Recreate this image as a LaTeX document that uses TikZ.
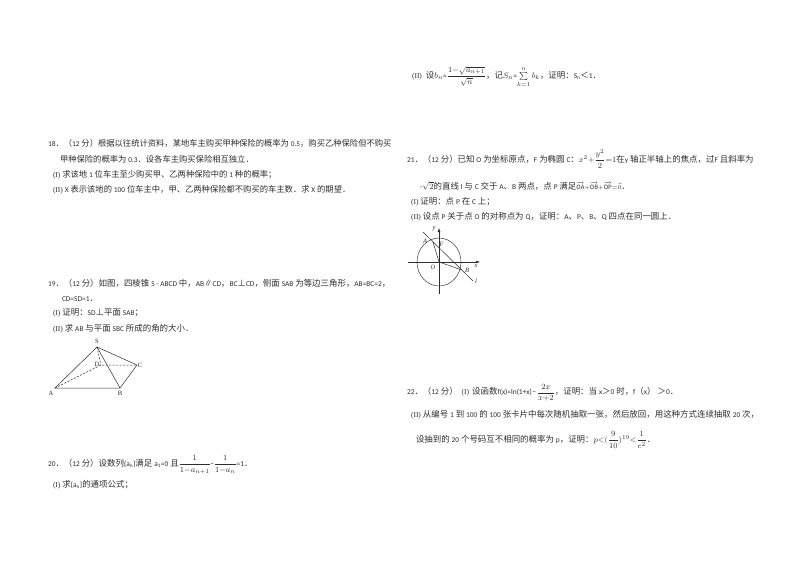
\documentclass[tikz,border=0pt]{standalone}
\usepackage{amsmath}
\usepackage{fontspec}
\setmainfont{Noto Sans CJK SC}
\newfontfamily\lat{Carlito}
\newfontfamily\ser{Liberation Serif}
\newcommand\ltn[1]{{\lat\fontsize{7.4}{8}\selectfont #1}}
\newcommand\rom[1]{{\ser\fontsize{7.5}{8}\selectfont (#1)}}
\newcommand\vc[1]{\overrightarrow{\mathrm{#1}}}
\usetikzlibrary{arrows.meta}
\definecolor{ink}{gray}{0.18}
\tikzset{
 line/.style={anchor=west,inner sep=0pt,outer sep=0pt,text=ink,font=\fontsize{8.45}{10}\selectfont},
 linetight/.style={line,font=\fontsize{8.3}{10}\selectfont},
 lbl/.style={inner sep=0pt,text=ink,font=\ser\fontsize{6.5}{7}\selectfont},
 lbli/.style={inner sep=0pt,text=ink,font=\ser\itshape\fontsize{6.5}{7}\selectfont},
 edge/.style={draw=ink,line width=0.5pt},
 hid/.style={draw=ink,line width=0.5pt,dash pattern=on 2pt off 1.5pt},
 thin curve/.style={draw=ink,line width=0.45pt}
}
\begin{document}
\begin{tikzpicture}[x=1pt,y=-1pt]
\fill[white] (0,0) rectangle (800,565);
\useasboundingbox (0,0) rectangle (800,565);
% Left column
\node[linetight] (q18a) at (48,143) {\ltn{18}．（\ltn{12} 分）根据以往统计资料，某地车主购买甲种保险的概率为 \ltn{0.5}，购买乙种保险但不购买};
\node[linetight] (q18b) at (60,159) {甲种保险的概率为 \ltn{0.3}．设各车主购买保险相互独立．};
\node[linetight] (q18c) at (53,174.5) {\rom{I} 求该地 \ltn{1} 位车主至少购买甲、乙两种保险中的 \ltn{1} 种的概率；};
\node[linetight] (q18d) at (53,189.5) {\rom{II} \ltn{X} 表示该地的 \ltn{100} 位车主中，甲、乙两种保险都不购买的车主数．求 \ltn{X} 的期望．};
\node[line] (q19a) at (48,283) {\ltn{19}．（\ltn{12} 分）如图，四棱锥 \ltn{S - ABCD} 中，\ltn{AB}∥\ltn{CD}，\ltn{BC}⊥\ltn{CD}，侧面 \ltn{SAB} 为等边三角形，\ltn{AB=BC=2}，};
\node[line] (q19b) at (62,299) {\ltn{CD=SD=1}．};
\node[line] (q19c) at (53,313) {\rom{I} 证明：\ltn{SD}⊥平面 \ltn{SAB}；};
\node[line] (q19d) at (53,329) {\rom{II} 求 \ltn{AB} 与平面 \ltn{SBC} 所成的角的大小．};
% pyramid
\coordinate (S) at (97,347);
\coordinate (C) at (137,365);
\coordinate (B) at (120,388);
\coordinate (A) at (55,388);
\coordinate (D) at (101,365);
\draw[edge] (S) -- (A) -- (B) -- (C) -- (S) -- (B);
\draw[hid] (S) -- (D) (A) -- (D) -- (C);
\node[lbl] (lS) at (97,341) {S};
\node[lbl] (lA) at (51,393) {A};
\node[lbl] (lB) at (120,393) {B};
\node[lbl] (lC) at (140,365) {C};
\node[lbl] (lD) at (97,364) {D};
\node[line] (q20a) at (48,465) {\ltn{20}．（\ltn{12} 分）设数列\ltn{\{a\textsubscript{n}\}}满足 \ltn{a\textsubscript{1}=0} 且$\dfrac{1}{1{-}a_{n+1}}$-$\dfrac{1}{1{-}a_{n}}$\ltn{=1}．};
\node[line] (q20b) at (53,485) {\rom{I} 求\ltn{\{a\textsubscript{n}\}}的通项公式；};
% Right column
\node[line] (q20c) at (412,77) {\rom{II}\hspace{4pt}设$b_n$\ltn{=}$\dfrac{1{-}\sqrt{a_{n+1}}}{\sqrt{n}}$，记$S_n$\ltn{=}$\sum\limits_{k=1}^{n}b_k$，证明：\ltn{S\textsubscript{n}}＜\ltn{1}．};
\node[line] (q21a) at (407,159) {\ltn{21}．（\ltn{12} 分）已知 \ltn{O} 为坐标原点，\ltn{F} 为椭圆 \ltn{C}：$x^2{+}\dfrac{y^2}{2}{=}1$在\ltn{y} 轴正半轴上的焦点，过\ltn{F} 且斜率为};
\node[line] (q21b) at (420,186) {\ltn{-}$\sqrt{2}$的直线 \ltn{l} 与 \ltn{C} 交于 \ltn{A}、\ltn{B} 两点，点 \ltn{P} 满足$\scriptstyle\vc{OA}{+}\vc{OB}{+}\vc{OP}{=}\vec{0}$．};
\node[line] (q21c) at (411,202) {\rom{I} 证明：点 \ltn{P} 在 \ltn{C} 上；};
\node[line] (q21d) at (411,217) {\rom{II} 设点 \ltn{P} 关于点 \ltn{O} 的对称点为 \ltn{Q}，证明：\ltn{A}、\ltn{P}、\ltn{B}、\ltn{Q} 四点在同一圆上．};
% ellipse figure
\coordinate (O) at (439,262);
\coordinate (xs) at (408,262);
\coordinate (xe) at (480,262);
\coordinate (ys) at (439,294);
\coordinate (ye) at (439,228);
\coordinate (l1) at (423,232);
\coordinate (l2) at (473,281);
\coordinate (PA) at (433,242);
\coordinate (PB) at (462,270);
\draw[thin curve] (O) ellipse [x radius=22,y radius=24];
\draw[edge,-{Latex[length=4pt,width=3pt]}] (xs) -- (xe);
\draw[edge,-{Latex[length=4pt,width=3pt]}] (ys) -- (ye);
\draw[edge] (l1) -- (l2);
\draw[edge] (PA) -- (O) -- (PB);
\node[lbli] (ly) at (434,229) {y};
\node[lbli] (lAA) at (425,241) {A};
\node[lbli] (lF) at (441.5,244) {F};
\node[lbli] (lO) at (433,267) {O};
\node[lbli] (lBB) at (467,270) {B};
\node[lbli] (lx) at (476,266) {x};
\node[lbli] (ll) at (476,281) {l};
\node[line] (q22a) at (407,393) {\ltn{22}．（\ltn{12} 分）\hspace{4pt}\rom{I}\hspace{3pt}设函数\ltn{f(x)=ln(1+x)}\hspace{1pt}-\hspace{1pt}$\dfrac{2x}{x{+}2}$，证明：当 \ltn{x}＞\ltn{0} 时，\ltn{f}（\ltn{x}）\hspace{2pt}＞\ltn{0}．};
\node[line] (q22b) at (411,415) {\rom{II} 从编号 \ltn{1} 到 \ltn{100} 的 \ltn{100} 张卡片中每次随机抽取一张，然后放回，用这种方式连续抽取 \ltn{20} 次，};
\node[line] (q22c) at (416,440) {设抽到的 \ltn{20} 个号码互不相同的概率为 \ltn{p}，证明：$p{<}(\dfrac{9}{10})^{19}{<}\dfrac{1}{e^2}$．};
\end{tikzpicture}
\end{document}
